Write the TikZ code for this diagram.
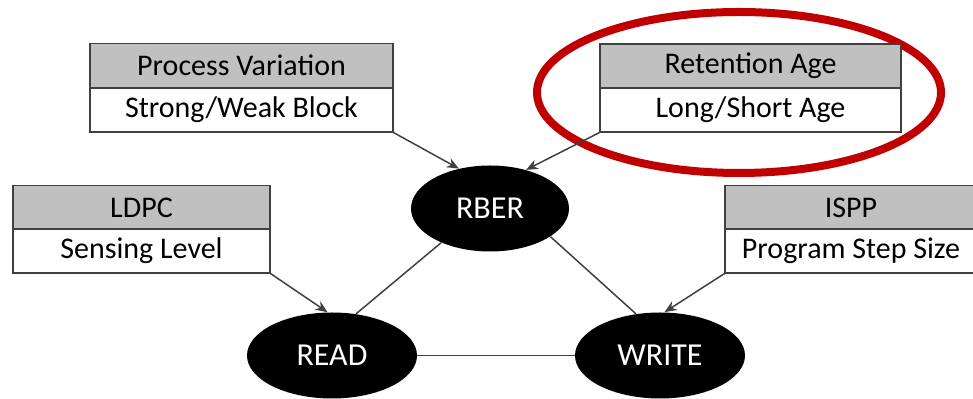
\documentclass[tikz,border=0pt]{standalone}
\usepackage{fontspec}
\setmainfont{Carlito}
\usetikzlibrary{shapes.geometric,arrows.meta}
\definecolor{linegray}{HTML}{404040}
\definecolor{hdrgray}{HTML}{C0C0C0}
\definecolor{hlred}{HTML}{C00000}
\tikzset{
  boxhead/.style={rectangle, draw=linegray, line width=0.6pt, fill=hdrgray, inner sep=0pt,
    minimum height=22pt, font=\fontsize{15}{17}\selectfont},
  boxbody/.style={rectangle, draw=linegray, line width=0.6pt, fill=white, inner sep=0pt,
    minimum height=22pt, font=\fontsize{15}{17}\selectfont},
  blob/.style={ellipse, fill=black, text=white, inner sep=0pt, minimum height=43pt,
    font=\fontsize{16}{18}\selectfont},
  link/.style={draw=linegray, line width=0.75pt},
  arrowlink/.style={link, -{Stealth[length=6pt,width=5pt]}},
  highlight/.style={ellipse, draw=hlred, line width=4pt, inner sep=0pt}
}
\begin{document}
\begin{tikzpicture}[x=0.5pt,y=-0.5pt]
\useasboundingbox (0,0) rectangle (973,399);
% highlight ellipse
\node[highlight, minimum width=202pt, minimum height=80.5pt] (hl) at (739,92.5) {};
% boxes
\node[boxhead, minimum width=151.5pt] (pvh) at (241.5,65.5) {Process Variation};
\node[boxbody, minimum width=151.5pt] (pvb) at (241.5,110) {Strong/Weak Block};
\node[boxhead, minimum width=150.5pt] (reth) at (750.5,66) {Retention Age};
\node[boxbody, minimum width=150.5pt] (retb) at (750.5,110) {Long/Short Age};
\node[boxhead, minimum width=128.5pt] (ldh) at (141.5,207.5) {LDPC};
\node[boxbody, minimum width=128.5pt] (ldb) at (141.5,251) {Sensing Level};
\node[boxhead, minimum width=126pt] (isph) at (851,207.5) {ISPP};
\node[boxbody, minimum width=126pt] (ispb) at (851,251) {Program Step Size};
% ellipses
\node[blob, minimum width=79pt] (rber) at (490,208.5) {RBER};
\node[blob, minimum width=85pt] (read) at (332,355.5) {READ};
\node[blob, minimum width=85pt] (write) at (660,355.5) {WRITE};
% connectors
\draw[arrowlink] (pvb.south east) -- (rber.128);
\draw[arrowlink] (retb.south west) -- (rber.47);
\draw[arrowlink] (ldb.south east) -- (read.96);
\draw[arrowlink] (ispb.south west) -- (write.84);
\draw[link] (rber.215) -- (read.60);
\draw[link] (rber.-25) -- (write.120);
\draw[link] (read.east) -- (write.west);
\end{tikzpicture}
\end{document}
